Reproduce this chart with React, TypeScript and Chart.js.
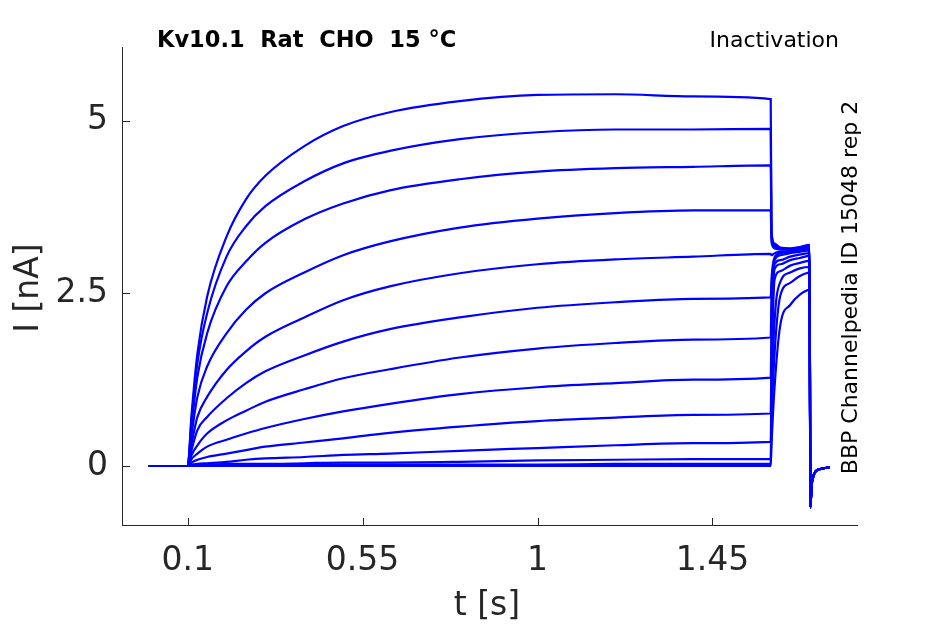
import React, { useEffect, useRef } from 'react';
import { Chart, registerables } from 'chart.js';

Chart.register(...registerables);

const xTicks = [0.1, 0.55, 1, 1.45];
const yTicks = [0, 2.5, 5];

// holding level before the test pulse
const holdTimes = [0, 0.1];
const holdCurrent = [0, 0];

// test pulse, one row per sweep (nA)
const pulseTimes = [0.1, 0.11, 0.125, 0.15, 0.2, 0.25, 0.3, 0.4, 0.5, 0.62, 0.8, 1.0, 1.2, 1.4, 1.6];
const pulseCurrents = [
  [0, 0.75, 1.63, 2.45, 3.32, 3.86, 4.2, 4.63, 4.92, 5.12, 5.28, 5.37, 5.38, 5.35, 5.31],
  [0, 0.68, 1.49, 2.21, 3.03, 3.47, 3.76, 4.12, 4.38, 4.56, 4.73, 4.83, 4.87, 4.87, 4.88],
  [0, 0.58, 1.29, 1.92, 2.6, 2.96, 3.23, 3.57, 3.8, 3.99, 4.15, 4.26, 4.31, 4.33, 4.35],
  [0, 0.45, 1.0, 1.44, 1.92, 2.26, 2.5, 2.8, 3.05, 3.25, 3.45, 3.58, 3.66, 3.7, 3.7],
  [0, 0.32, 0.71, 1.0, 1.39, 1.66, 1.87, 2.15, 2.4, 2.6, 2.79, 2.92, 2.99, 3.03, 3.07],
  [0, 0.23, 0.52, 0.71, 0.98, 1.2, 1.37, 1.6, 1.8, 1.98, 2.15, 2.29, 2.37, 2.42, 2.44],
  [0, 0.16, 0.3, 0.47, 0.66, 0.8, 0.93, 1.11, 1.27, 1.4, 1.57, 1.7, 1.78, 1.83, 1.86],
  [0, 0.1, 0.18, 0.28, 0.38, 0.47, 0.55, 0.68, 0.79, 0.9, 1.04, 1.14, 1.2, 1.25, 1.28],
  [0, 0.05, 0.09, 0.13, 0.18, 0.23, 0.28, 0.34, 0.4, 0.48, 0.57, 0.65, 0.7, 0.74, 0.76],
  [0, 0.02, 0.03, 0.04, 0.06, 0.09, 0.11, 0.13, 0.16, 0.18, 0.22, 0.26, 0.3, 0.33, 0.35],
  [0, 0.01, 0.02, 0.02, 0.03, 0.03, 0.03, 0.04, 0.05, 0.05, 0.06, 0.08, 0.09, 0.1, 0.1],
  [0, 0, 0.01, 0.01, 0.01, 0.01, 0.01, 0.02, 0.02, 0.02, 0.02, 0.02, 0.03, 0.03, 0.03],
  [0, 0, 0, 0, 0, 0, 0, 0, 0, 0, 0, 0, 0, 0, 0],
];

// inactivation step after the pulse
const tailTimes = [1.602, 1.61, 1.625, 1.65, 1.675, 1.7];
const tailCurrents = [
  [3.4, 3.22, 3.16, 3.15, 3.17, 3.2],
  [3.36, 3.2, 3.15, 3.14, 3.16, 3.19],
  [3.32, 3.18, 3.14, 3.14, 3.16, 3.18],
  [3.24, 3.15, 3.13, 3.13, 3.15, 3.17],
  [3.05, 3.08, 3.1, 3.11, 3.13, 3.15],
  [2.7, 3.02, 3.08, 3.1, 3.12, 3.14],
  [2.5, 2.98, 3.05, 3.08, 3.1, 3.12],
  [2.0, 2.92, 2.98, 3.03, 3.06, 3.08],
  [1.6, 2.85, 2.92, 2.98, 3.01, 3.04],
  [1.2, 2.7, 2.82, 2.9, 2.94, 2.97],
  [0.9, 2.1, 2.67, 2.8, 2.86, 2.88],
  [0.6, 1.63, 2.47, 2.65, 2.75, 2.8],
  [0.3, 1.15, 2.05, 2.33, 2.48, 2.55],
];

// return to holding potential
const endTimes = [1.702, 1.705, 1.708, 1.715, 1.73, 1.752];
const endCurrent = [-0.6, -0.3, -0.18, -0.08, -0.04, -0.02];

const ink = '#262626';
const font = 'DejaVu Sans';

const sweepPoints = (i: number) => [
  ...holdTimes.slice(0, -1).map((t, k) => ({ x: t, y: holdCurrent[k] })),
  ...pulseTimes.map((t, k) => ({ x: t, y: pulseCurrents[i][k] })),
  ...tailTimes.map((t, k) => ({ x: t, y: tailCurrents[i][k] })),
  ...endTimes.map((t, k) => ({ x: t, y: endCurrent[k] })),
];

const decorations = {
  id: 'decorations',
  afterDraw(chart: any) {
    const { ctx, chartArea, scales } = chart;
    ctx.save();
    // inward ticks like matlab
    ctx.strokeStyle = ink;
    ctx.lineWidth = 1;
    ctx.beginPath();
    xTicks.forEach((v) => {
      const px = Math.round(scales.x.getPixelForValue(v)) + 0.5;
      ctx.moveTo(px, chartArea.bottom);
      ctx.lineTo(px, chartArea.bottom - 7);
    });
    yTicks.forEach((v) => {
      const py = Math.round(scales.y.getPixelForValue(v)) + 0.5;
      ctx.moveTo(chartArea.left, py);
      ctx.lineTo(chartArea.left + 8, py);
    });
    ctx.stroke();

    ctx.fillStyle = '#000';
    ctx.textBaseline = 'alphabetic';
    ctx.font = `bold 22.5px "${font}"`;
    ctx.textAlign = 'left';
    ctx.fillText('Kv10.1  Rat  CHO  15 °C', 157, 47);
    ctx.font = `22px "${font}"`;
    ctx.textAlign = 'right';
    ctx.fillText('Inactivation', 839, 47);

    ctx.save();
    ctx.translate(857, 287.5);
    ctx.rotate(-Math.PI / 2);
    ctx.textAlign = 'center';
    ctx.fillText('BBP Channelpedia ID 15048 rep 2', 0, 0);
    ctx.restore();

    ctx.fillStyle = ink;
    ctx.font = `33px "${font}"`;
    ctx.textAlign = 'center';
    ctx.fillText('t [s]', 487, 615);
    ctx.save();
    ctx.translate(37.5, 288);
    ctx.rotate(-Math.PI / 2);
    ctx.fillText('I [nA]', 0, 0);
    ctx.restore();
    ctx.restore();
  },
};

const App = () => {
  const canvasRef = useRef<HTMLCanvasElement>(null);

  useEffect(() => {
    if (!canvasRef.current) return;
    const chart = new Chart(canvasRef.current, {
      type: 'line',
      data: {
        datasets: pulseCurrents.map((_, i) => ({
          data: sweepPoints(i),
          borderColor: '#0000ff',
          borderWidth: 2.2,
          pointRadius: 0,
          fill: false,
          cubicInterpolationMode: 'monotone' as const,
        })),
      },
      options: {
        animation: false,
        responsive: false,
        parsing: false,
        layout: { padding: { left: 0, top: 47, right: 88, bottom: 0 } },
        plugins: {
          legend: { display: false },
          tooltip: { enabled: false },
        },
        scales: {
          x: {
            type: 'linear',
            min: -0.069,
            max: 1.822,
            afterFit: (s: any) => { s.height = 99; },
            afterBuildTicks: (s: any) => { s.ticks = xTicks.map((v) => ({ value: v })); },
            grid: { display: false, drawTicks: false },
            border: { display: true, color: ink, width: 1 },
            ticks: {
              autoSkip: false,
              maxRotation: 0,
              padding: 17,
              color: ink,
              font: { family: font, size: 33 },
              callback: (v: any) => String(v),
            },
          },
          y: {
            type: 'linear',
            min: -0.854,
            max: 6.064,
            afterFit: (s: any) => { s.width = 122; },
            afterBuildTicks: (s: any) => { s.ticks = yTicks.map((v) => ({ value: v })); },
            grid: { display: false, drawTicks: false },
            border: { display: true, color: ink, width: 1 },
            ticks: {
              padding: 14,
              color: ink,
              font: { family: font, size: 33 },
              callback: (v: any) => String(v),
            },
          },
        },
      },
      plugins: [decorations],
    });
    return () => chart.destroy();
  }, []);

  return (
    <div style={{ position: 'absolute', left: 0, top: 0, width: 945, height: 624, background: '#fff' }}>
      <canvas ref={canvasRef} width={945} height={624} style={{ width: 945, height: 624 }} />
    </div>
  );
};

export default App;
